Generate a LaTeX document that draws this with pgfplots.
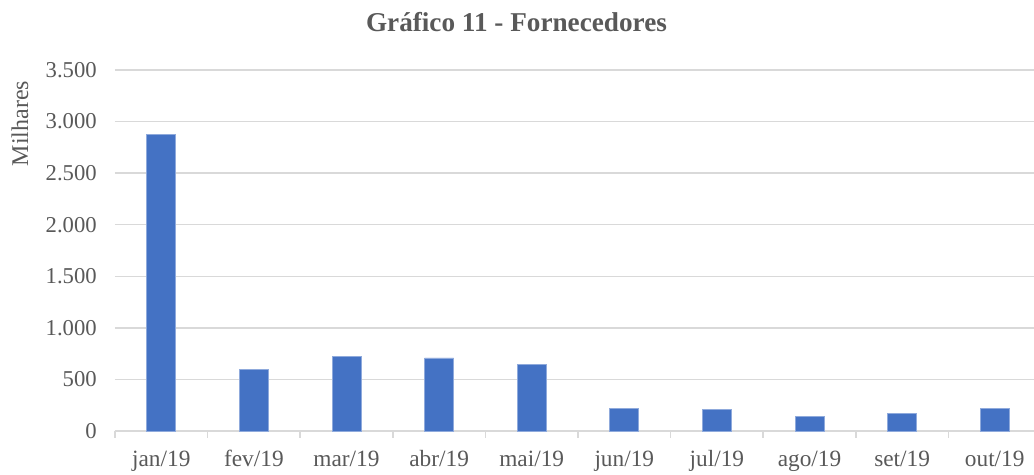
\documentclass[border=0pt]{standalone}
\usepackage{pgfplots}
\pgfplotsset{compat=1.18}
\usepackage{fontspec}
\setmainfont{Liberation Serif}
\definecolor{barblue}{HTML}{4472C4}
\definecolor{baredge}{HTML}{8FAADC}
\definecolor{txtgray}{HTML}{595959}
\definecolor{gridgray}{HTML}{D9D9D9}
\begin{document}
\begin{tikzpicture}
\begin{axis}[
  name=ax,
  scale only axis,
  width=689.25pt, height=270.75pt,
  xmin=-0.5, xmax=9.424,
  ymin=0, ymax=3500,
  ytick={0,500,...,3500},
  xtick={0,...,9},
  xticklabels={jan/19,fev/19,mar/19,abr/19,mai/19,jun/19,jul/19,ago/19,set/19,out/19},
  minor xtick={-0.5,0.5,...,9.5},
  major tick length=0pt,
  minor tick length=5.25pt,
  tick align=outside,
  axis lines*=left,
  y axis line style={draw=none},
  x axis line style={draw=gridgray, line width=1.1pt},
  minor x tick style={draw=gridgray, line width=1.1pt},
  ymajorgrids,
  major grid style={draw=gridgray, line width=1.1pt},
  /pgf/number format/assume math mode=true,
  /pgf/number format/1000 sep={.},
  yticklabel style={anchor=east, inner sep=0pt, xshift=-13.5pt, font=\fontsize{17}{19}\selectfont, text=txtgray},
  xticklabel style={anchor=base, inner sep=0pt, yshift=-27pt, font=\fontsize{17.5}{19}\selectfont, text=txtgray},
  ybar, bar width=21.75pt,
  clip=false,
]
\addplot[fill=barblue, draw=baredge, line width=0.5pt] coordinates {
  (0,2878) (1,601) (2,724) (3,708) (4,643)
  (5,217) (6,208) (7,140) (8,172) (9,220)
};
\end{axis}
\node[font=\bfseries\fontsize{20.4}{23}\selectfont, text=txtgray, inner sep=0pt] at ([xshift=301.1pt, yshift=306.75pt]ax.south west) {Gráfico 11 - Fornecedores};
\node[rotate=90, font=\fontsize{18}{20}\selectfont, text=txtgray, inner sep=0pt] at ([xshift=-71.25pt, yshift=230.6pt]ax.south west) {Milhares};
\pgfresetboundingbox
\path[use as bounding box] ([xshift=-86.25pt,yshift=-33pt]ax.south west) rectangle ([yshift=323.25pt]ax.south east);
\end{tikzpicture}
\end{document}
